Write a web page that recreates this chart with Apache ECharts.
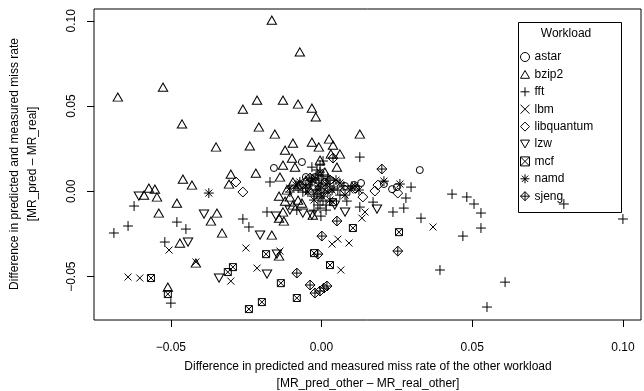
<!DOCTYPE html>
<html><head><meta charset="utf-8">
<script src="https://cdn.jsdelivr.net/npm/echarts@6/dist/echarts.min.js"></script>
<style>html,body{margin:0;padding:0;background:#fff}#c{width:644px;height:391px}</style>
</head><body><div id="c"></div>
<script>
const workloads = ["astar","bzip2","fft","lbm","libquantum","lzw","mcf","namd","sjeng"];
const xTicks = [-0.05, 0, 0.05, 0.1];
const xTickLabels = ["\u22120.05","0.00","0.05","0.10"];
const yTicks = [-0.05, 0, 0.05, 0.1];
const yTickLabels = ["\u22120.05","0.00","0.05","0.10"];

const astar = [[-0.0065,0.0172],[-0.0158,0.0137],[0.0326,0.0125],[-0.0052,0.0084],[-0.0022,0.0084],[0.0131,0.0049],[0.0108,0.0037],[0.0207,0.0043],[0.0250,0.0025],[0.0234,0.0013],[0.0011,0.0055],[0.0078,0.0031]];
const bzip2 = [[-0.0165,0.1004],[-0.0072,0.0817],[-0.0526,0.0611],[-0.0676,0.0553],[-0.0214,0.0535],[-0.0128,0.0535],[-0.0078,0.0512],[-0.0032,0.0488],[-0.0261,0.0482],[-0.0019,0.0436],[-0.0463,0.0395],[-0.0208,0.0377],[-0.0155,0.0336],[-0.0238,0.0266],[-0.0350,0.0260],[-0.0095,0.0283],[-0.0121,0.0242],[-0.0032,0.0289],[-0.0009,0.0260],[0.0025,0.0307],[0.0038,0.0271],[0.0127,0.0336],[-0.0098,0.0195],[0.0061,0.0219],[0.0031,0.0219],[-0.0128,0.0154],[-0.0088,0.0142],[0.0051,0.0142],[-0.0460,0.0072],[-0.0430,0.0037],[-0.0301,0.0101],[-0.0307,0.0043],[-0.0218,0.0107],[-0.0573,0.0019],[-0.0553,0.0013],[-0.0589,-0.0022],[-0.0546,-0.0033],[-0.0480,-0.0069],[-0.0540,-0.0127],[-0.0347,-0.0127],[-0.0367,-0.0174],[-0.0330,-0.0244],[-0.0165,-0.0256],[-0.0470,-0.0303],[-0.0417,-0.0420],[-0.0510,-0.0561],[-0.0141,-0.0028],[-0.0138,0.0084],[-0.0121,-0.0057],[-0.0141,-0.0157],[-0.0125,-0.0174],[-0.0141,-0.0379],[-0.0095,0.0055],[-0.0065,-0.0069],[-0.0095,-0.0080],[-0.0029,-0.0139],[-0.0128,-0.0121],[-0.0115,0.0008],[-0.0005,0.0183],[0.0011,0.0113],[-0.0038,0.0008],[-0.0105,-0.0033],[-0.0078,0.0031],[-0.0052,0.0066],[-0.0078,-0.0051]];
const fft = [[-0.0171,0.0055],[-0.0622,-0.0086],[-0.0642,-0.0203],[-0.0689,-0.0244],[-0.0480,-0.0180],[-0.0450,-0.0221],[-0.0520,-0.0297],[-0.0261,-0.0162],[-0.0241,-0.0209],[-0.0181,-0.0121],[-0.0500,-0.0655],[0.0127,0.0201],[-0.0032,0.0142],[0.0005,0.0178],[-0.0082,-0.0110],[0.0084,-0.0057],[0.0127,-0.0092],[0.0171,-0.0063],[0.0237,-0.0121],[0.0273,-0.0098],[0.0297,0.0025],[0.0280,-0.0039],[0.0330,-0.0157],[0.0433,-0.0016],[0.0482,-0.0033],[0.0506,-0.0074],[0.0529,-0.0127],[0.0529,-0.0215],[0.0469,-0.0262],[0.0609,-0.0532],[0.0549,-0.0678],[0.0804,-0.0074],[0.1000,-0.0162],[0.0393,-0.0461],[-0.0012,0.0096],[0.0001,0.0066],[-0.0005,0.0031],[-0.0019,0.0008],[0.0008,-0.0010],[-0.0005,-0.0039],[-0.0012,-0.0080],[0.0015,-0.0110],[-0.0032,0.0055],[0.0028,0.0031],[-0.0052,0.0019],[0.0054,0.0008],[-0.0078,0.0019],[0.0074,0.0031],[-0.0002,-0.0145],[-0.0025,-0.0028],[0.0021,0.0078],[0.0101,0.0031],[-0.0105,-0.0004],[-0.0005,0.0154],[-0.0015,0.0125],[0.0005,0.0096],[-0.0009,0.0049],[-0.0002,0.0019],[-0.0015,-0.0016],[0.0005,-0.0057],[-0.0005,-0.0098],[-0.0038,0.0037],[0.0041,0.0019],[-0.0062,-0.0004],[0.0061,-0.0022],[0.0015,-0.0080],[-0.0025,-0.0110]];
const lbm = [[-0.0506,-0.0344],[-0.0251,-0.0332],[-0.0642,-0.0502],[-0.0603,-0.0508],[-0.0301,-0.0526],[-0.0214,-0.0450],[-0.0417,-0.0414],[-0.0138,-0.0350],[0.0035,-0.0309],[0.0054,-0.0280],[0.0091,-0.0303],[0.0064,-0.0461],[0.0134,-0.0157],[0.0144,-0.0121],[0.0370,-0.0209],[-0.0012,0.0037],[0.0011,0.0008]];
const libquantum = [[-0.0284,0.0055],[-0.0261,-0.0004],[0.0177,0.0002],[0.0187,0.0037],[0.0253,-0.0010],[0.0137,-0.0033],[0.0111,0.0019],[-0.0072,0.0037],[0.0028,0.0066],[0.0078,0.0008]];
const lzw = [[-0.0606,-0.0028],[-0.0390,-0.0133],[-0.0204,-0.0256],[-0.0443,-0.0297],[-0.0151,-0.0145],[-0.0340,-0.0508],[-0.0181,-0.0485],[-0.0148,-0.0368],[0.0078,-0.0121],[0.0184,-0.0104],[-0.0032,-0.0139],[-0.0062,-0.0127],[-0.0105,-0.0110],[0.0044,-0.0080]];
const mcf = [[-0.0566,-0.0508],[-0.0510,-0.0602],[-0.0311,-0.0473],[-0.0294,-0.0444],[-0.0184,-0.0368],[-0.0241,-0.0690],[-0.0198,-0.0649],[-0.0135,-0.0538],[-0.0082,-0.0625],[-0.0025,-0.0362],[0.0028,-0.0432],[0.0104,-0.0215],[0.0257,-0.0239],[0.0038,-0.0063]];
const namd = [[-0.0374,-0.0010],[0.0207,0.0060],[0.0260,0.0043],[0.0124,0.0008],[0.0111,0.0031],[-0.0005,0.0113],[-0.0032,0.0066],[0.0015,0.0043],[-0.0012,0.0008],[0.0035,0.0008],[-0.0052,0.0031],[0.0001,-0.0028],[-0.0025,-0.0051],[0.0061,0.0049],[-0.0072,0.0055],[0.0028,-0.0051],[0.0078,-0.0022],[-0.0085,0.0037],[-0.0045,-0.0004],[-0.0019,0.0078],[0.0021,-0.0004],[0.0048,0.0066],[0.0094,0.0008],[-0.0105,0.0019]];
const sjeng = [[0.0038,0.0195],[0.0200,0.0131],[0.0051,-0.0174],[0.0001,-0.0262],[0.0253,-0.0350],[-0.0012,-0.0368],[-0.0082,-0.0479],[-0.0038,-0.0549],[0.0008,-0.0567],[-0.0022,-0.0596],[-0.0005,-0.0584],[0.0018,-0.0555],[0.0028,0.0066],[-0.0038,0.0078]];

const seriesData = [astar,bzip2,fft,lbm,libquantum,lzw,mcf,namd,sjeng];
const symbols = [
  ['circle',[7,7]],
  ['path://M5 0 L10 8.66 L0 8.66 Z',[9.4,8.2]],
  ['path://M5 0 L5 10 M0 5 L10 5',[9.9,9.9]],
  ['path://M0 0 L10 10 M10 0 L0 10',[7,7]],
  ['path://M5 0 L10 5 L5 10 L0 5 Z',[9.9,9.9]],
  ['path://M0 0 L10 0 L5 8.66 Z',[9.4,8.2]],
  ['path://M0 0 L10 0 L10 10 L0 10 Z M0 0 L10 10 M10 0 L0 10',[7,7]],
  ['path://M5 0 L5 10 M0 5 L10 5 M1.46 1.46 L8.54 8.54 M8.54 1.46 L1.46 8.54',[9.9,9.9]],
  ['path://M5 0 L10 5 L5 10 L0 5 Z M5 0 L5 10 M0 5 L10 5',[9.9,9.9]]
];
function tickLabel(ticks, labels, v){
  for (let i=0;i<ticks.length;i++) if (Math.abs(ticks[i]-v)<1e-9) return labels[i];
  return '';
}
const font = 'Liberation Sans, Arial, Helvetica, sans-serif';
const stroke = {color:'rgba(0,0,0,0)',borderColor:'#000',borderWidth:1,opacity:1};
const chart = echarts.init(document.getElementById('c'), null, {renderer:'canvas'});
chart.setOption({
  animation:false,
  backgroundColor:'#fff',
  grid:{left:94,right:3,top:9,bottom:71,show:true,borderColor:'#000',borderWidth:1,backgroundColor:'transparent'},
  xAxis:{type:'value',min:-0.0755,max:0.106,
    axisLine:{show:false,onZero:false},splitLine:{show:false},
    axisTick:{show:true,length:7,customValues:xTicks,lineStyle:{color:'#000'}},
    axisLabel:{customValues:xTicks,margin:22,color:'#000',fontFamily:font,fontSize:12,
      formatter:v=>tickLabel(xTicks,xTickLabels,v)}},
  yAxis:{type:'value',min:-0.0754,max:0.1069,
    axisLine:{show:false,onZero:false},splitLine:{show:false},
    axisTick:{show:true,length:7,customValues:yTicks,lineStyle:{color:'#000'}},
    axisLabel:{customValues:yTicks,rotate:90,margin:16,color:'#000',fontFamily:font,fontSize:12,
      formatter:v=>tickLabel(yTicks,yTickLabels,v)}},
  legend:{orient:'vertical',left:520,top:50,padding:0,itemWidth:9,itemHeight:9,itemGap:3.4,
    itemStyle:stroke,
    textStyle:{color:'#000',fontFamily:font,fontSize:12,lineHeight:14},
    data:workloads},
  graphic:[
    {type:'rect',shape:{x:518.5,y:22.5,width:103,height:190},style:{fill:'none',stroke:'#000',lineWidth:1},silent:true},
    {type:'text',x:566,y:34,style:{text:'Workload',fontFamily:font,fontSize:12,fill:'#000',align:'center',verticalAlign:'middle'}},
    {type:'text',x:368,y:367,style:{text:'Difference in predicted and measured miss rate of the other workload',fontFamily:font,fontSize:12,fill:'#000',align:'center',verticalAlign:'middle'}},
    {type:'text',x:368,y:384,style:{text:'[MR_pred_other \u2013 MR_real_other]',fontFamily:font,fontSize:12,fill:'#000',align:'center',verticalAlign:'middle'}},
    {type:'text',x:15,y:164,rotation:Math.PI/2,style:{text:'Difference in predicted and measured miss rate',fontFamily:font,fontSize:12,fill:'#000',align:'center',verticalAlign:'middle'}},
    {type:'text',x:33,y:164,rotation:Math.PI/2,style:{text:'[MR_pred \u2013 MR_real]',fontFamily:font,fontSize:12,fill:'#000',align:'center',verticalAlign:'middle'}}
  ],
  series: workloads.map((w,i)=>({
    name:w,type:'scatter',data:seriesData[i],
    symbol:symbols[i][0],symbolSize:symbols[i][1],
    itemStyle:stroke,
    emphasis:{disabled:true}
  }))
});
</script></body></html>
